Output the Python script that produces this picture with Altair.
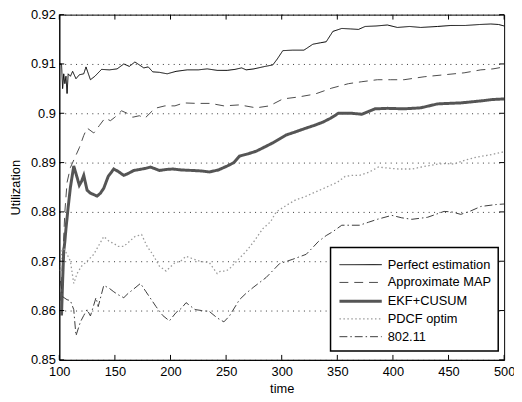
import altair as alt
import pandas as pd

series_names = ["Perfect estimation", "Approximate MAP", "EKF+CUSUM", "PDCF optim", "802.11"]
series_colors = ["#000000", "#4a4a4a", "#555555", "#9a9a9a", "#3c3c3c"]
series_dash = [[1, 0], [9, 6], [1, 0], [1.5, 2.5], [8, 3, 1.5, 3]]
series_width = [1.0, 1.0, 3.0, 1.3, 1.0]

perf_t = [100, 102, 103, 104, 105, 106, 107, 108, 110, 112, 115, 118, 122, 124, 128, 132, 138, 145, 152, 158,
          163, 168, 172, 176, 180, 184, 190, 197, 205, 215, 225, 233, 242, 251, 258, 264, 268, 275, 285, 292,
          296, 301, 310, 320, 328, 335, 340, 346, 354, 362, 369, 375, 385, 395, 404, 415, 425, 440, 452, 465,
          478, 488, 495, 500]
perf_v = [0.910, 0.910, 0.905, 0.908, 0.906, 0.9075, 0.904, 0.908, 0.9075, 0.9085, 0.907, 0.9078, 0.908, 0.9094,
          0.9068, 0.9075, 0.9089, 0.9088, 0.909, 0.910, 0.9095, 0.9104, 0.9098, 0.9092, 0.9094, 0.9084, 0.9083,
          0.908, 0.9085, 0.9088, 0.9088, 0.909, 0.9087, 0.9087, 0.9089, 0.9092, 0.9088, 0.909, 0.9095, 0.9098,
          0.911, 0.9127, 0.9128, 0.9128, 0.914, 0.9143, 0.9145, 0.9166, 0.9172, 0.9171, 0.917, 0.9176, 0.9177,
          0.9179, 0.9174, 0.9176, 0.9174, 0.9176, 0.9178, 0.9178, 0.918, 0.9181, 0.918, 0.9177]

map_t = [101, 103, 105, 107, 110, 114, 118, 122, 125, 131, 136, 141, 146, 150, 156, 161, 166, 172, 177, 186,
         195, 204, 212, 224, 236, 248, 262, 277, 289, 301, 315, 330, 345, 360, 372, 386, 398, 410, 428, 446,
         464, 479, 490, 500]
map_v = [0.862, 0.870, 0.880, 0.886, 0.889, 0.891, 0.893, 0.8955, 0.897, 0.896, 0.8975, 0.899, 0.8985, 0.8992,
         0.9005, 0.900, 0.8992, 0.8995, 0.899, 0.901, 0.9015, 0.9015, 0.9021, 0.902, 0.902, 0.9015, 0.9017,
         0.9011, 0.9015, 0.9029, 0.9033, 0.9039, 0.9051, 0.906, 0.9064, 0.9068, 0.9068, 0.9068, 0.9074, 0.9078,
         0.9082, 0.9088, 0.909, 0.9094]

ekf_t = [102, 103, 104, 105, 106, 108, 110, 113, 116, 118, 120, 122, 125, 128, 131, 134, 137, 140, 144, 149,
         153, 158, 162, 167, 172, 177, 182, 190, 196, 202, 210, 220, 228, 235, 243, 251, 257, 262, 270, 277,
         285, 292, 298, 304, 312, 322, 330, 337, 344, 351, 358, 363, 372, 384, 395, 410, 425, 440, 450, 461,
         470, 479, 490, 500]
ekf_v = [0.859, 0.866, 0.872, 0.874, 0.8766, 0.881, 0.885, 0.8893, 0.887, 0.8854, 0.8862, 0.8874, 0.8844,
         0.8838, 0.8835, 0.8832, 0.8838, 0.8848, 0.8872, 0.8887, 0.8882, 0.8874, 0.8878, 0.8884, 0.8886, 0.8888,
         0.8891, 0.8884, 0.8886, 0.8887, 0.8885, 0.8884, 0.8883, 0.8881, 0.8885, 0.8893, 0.890, 0.8913, 0.8918,
         0.8923, 0.8932, 0.894, 0.8948, 0.8956, 0.8962, 0.897, 0.8976, 0.8982, 0.899, 0.900, 0.900, 0.900,
         0.8998, 0.9009, 0.901, 0.9009, 0.9011, 0.9019, 0.902, 0.9021, 0.9023, 0.9025, 0.9028, 0.9029]

pdcf_t = [101, 102, 104, 107, 110, 113, 116, 120, 125, 131, 135, 140, 145, 149, 153, 158, 163, 168, 174, 179,
          184, 190, 196, 204, 209, 214, 220, 226, 235, 242, 245, 250, 254, 262, 268, 275, 283, 290, 295, 304,
          313, 320, 328, 335, 342, 350, 357, 363, 370, 378, 387, 395, 405, 417, 428, 440, 448, 455, 465, 475,
          483, 490, 500]
pdcf_v = [0.868, 0.872, 0.8726, 0.8714, 0.870, 0.8655, 0.8675, 0.869, 0.870, 0.8714, 0.873, 0.875, 0.874,
          0.8736, 0.873, 0.873, 0.874, 0.875, 0.8754, 0.873, 0.8714, 0.869, 0.868, 0.8697, 0.870, 0.871, 0.8705,
          0.870, 0.8697, 0.8675, 0.868, 0.868, 0.8687, 0.8706, 0.872, 0.874, 0.8766, 0.878, 0.880, 0.8813,
          0.8825, 0.883, 0.8838, 0.8845, 0.8852, 0.886, 0.8872, 0.8874, 0.8874, 0.888, 0.8891, 0.8889, 0.8887,
          0.8887, 0.8892, 0.8897, 0.8898, 0.8897, 0.8905, 0.8911, 0.8914, 0.8917, 0.8922]

w_t = [101, 103, 107, 110, 113, 115, 119, 122, 125, 128, 133, 135, 140, 145, 149, 153, 158, 162, 166, 173,
       178, 187, 193, 199, 205, 210, 214, 222, 228, 235, 242, 248, 253, 262, 268, 275, 286, 298, 310, 322,
       328, 333, 340, 346, 354, 363, 370, 378, 386, 399, 408, 417, 431, 446, 453, 461, 470, 479, 493, 500]
w_v = [0.866, 0.8628, 0.8622, 0.862, 0.8602, 0.8549, 0.8577, 0.859, 0.8602, 0.8589, 0.8626, 0.8608, 0.8651,
       0.8645, 0.8638, 0.8632, 0.8626, 0.8635, 0.8642, 0.8655, 0.8638, 0.8608, 0.859, 0.8579, 0.8596, 0.8605,
       0.8616, 0.8602, 0.860, 0.8598, 0.8585, 0.8577, 0.8589, 0.8622, 0.8635, 0.8648, 0.8667, 0.8695, 0.8704,
       0.8714, 0.8728, 0.874, 0.8752, 0.876, 0.8773, 0.8773, 0.8773, 0.8779, 0.8785, 0.8793, 0.8788, 0.8785,
       0.8789, 0.8801, 0.880, 0.8795, 0.8802, 0.8811, 0.8815, 0.8816]

x_ticks = [100, 150, 200, 250, 300, 350, 400, 450, 500]
y_ticks = [0.85, 0.86, 0.87, 0.88, 0.89, 0.90, 0.91, 0.92]

frames = []
for name, t, v in zip(series_names, [perf_t, map_t, ekf_t, pdcf_t, w_t],
                      [perf_v, map_v, ekf_v, pdcf_v, w_v]):
    d = pd.DataFrame({"time": t, "util": v})
    d["series"] = name
    d["order"] = range(len(d))
    frames.append(d)
df = pd.concat(frames, ignore_index=True)

W, H = 451, 350
FONT = "Liberation Sans"

xscale = alt.Scale(domain=[100, 500], nice=False, zero=False)
yscale = alt.Scale(domain=[0.85, 0.92], nice=False, zero=False)

lines = alt.Chart(df).mark_line(clip=True).encode(
    x=alt.X("time:Q", scale=xscale,
            axis=alt.Axis(values=x_ticks, title="time", grid=False, tickSize=0, labelPadding=6,
                          titlePadding=4, format="d", labelFlush=False)),
    y=alt.Y("util:Q", scale=yscale,
            axis=alt.Axis(values=y_ticks, title="Utilization", grid=True, tickSize=0, labelPadding=4,
                          format=".2~f", titlePadding=8, labelFlush=False,
                          gridDash=[1, 4.5], gridColor="#000000", gridOpacity=0.8)),
    color=alt.Color("series:N", scale=alt.Scale(domain=series_names, range=series_colors), title=None),
    strokeDash=alt.StrokeDash("series:N", scale=alt.Scale(domain=series_names, range=series_dash), title=None),
    strokeWidth=alt.StrokeWidth("series:N", scale=alt.Scale(type="ordinal", domain=series_names, range=series_width), title=None),
    order="order:Q",
    detail="series:N",
)

xt = pd.DataFrame({"time": x_ticks})
yt = pd.DataFrame({"util": y_ticks})
tick_style = dict(color="black", strokeWidth=1)
bottom_ticks = alt.Chart(xt).mark_rule(**tick_style).encode(
    x=alt.X("time:Q", scale=xscale), y=alt.value(H), y2=alt.value(H - 5))
top_ticks = alt.Chart(xt).mark_rule(**tick_style).encode(
    x=alt.X("time:Q", scale=xscale), y=alt.value(0), y2=alt.value(5))
left_ticks = alt.Chart(yt).mark_rule(**tick_style).encode(
    y=alt.Y("util:Q", scale=yscale), x=alt.value(0), x2=alt.value(5))
right_ticks = alt.Chart(yt).mark_rule(**tick_style).encode(
    y=alt.Y("util:Q", scale=yscale), x=alt.value(W), x2=alt.value(W - 5))

chart = alt.layer(lines, bottom_ticks, top_ticks, left_ticks, right_ticks).properties(
    width=W, height=H,
    autosize=alt.AutoSizeParams(type="none"),
    padding={"left": 52, "top": 4, "right": 10, "bottom": 40},
).configure_view(
    stroke="black", strokeWidth=1
).configure_axis(
    labelFont=FONT, titleFont=FONT, labelFontSize=13, titleFontSize=13,
    labelColor="black", titleColor="black", titleFontWeight="normal",
    domainColor="black", domainWidth=1,
).configure_legend(
    orient="none", legendX=275, legendY=236,
    strokeColor="black", fillColor="white", padding=7,
    symbolType="M-2.2,0H2.2", symbolSize=380, symbolOffset=12,
    labelFont=FONT, labelFontSize=13, labelColor="black", labelOffset=16,
    rowPadding=0, cornerRadius=0, strokeWidth=1.5,
)

chart.save("out.html", embed_options={"renderer": "svg", "actions": False})
